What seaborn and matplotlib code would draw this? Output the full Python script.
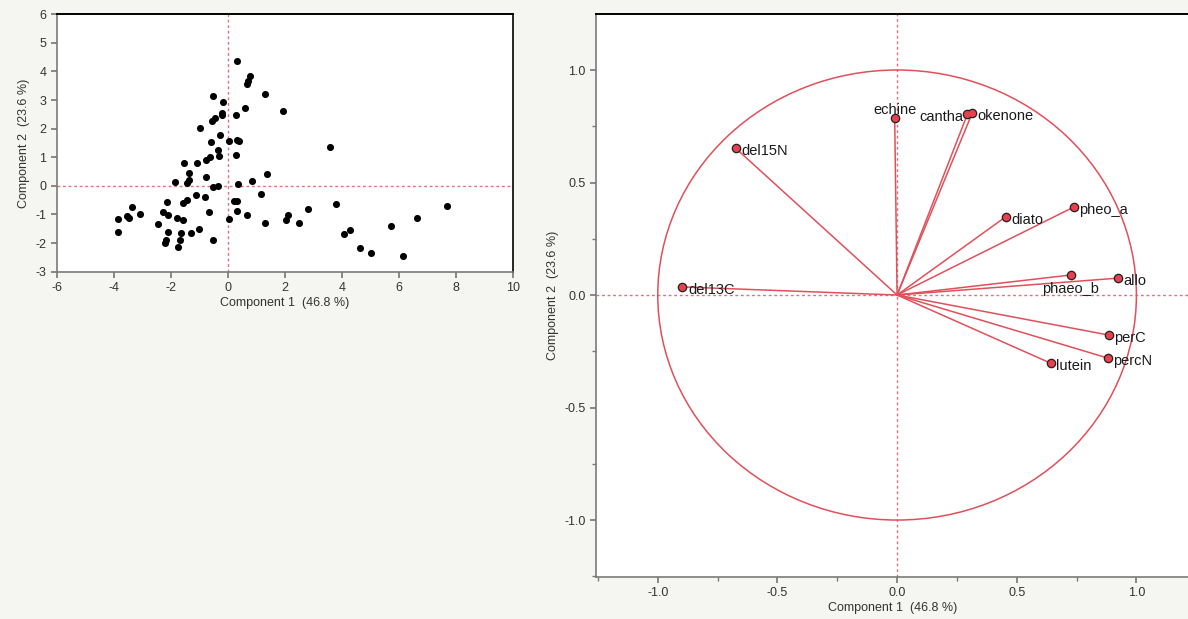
import matplotlib
matplotlib.use("Agg")
import matplotlib.pyplot as plt
from matplotlib.patches import Circle
from matplotlib.ticker import MultipleLocator
import seaborn as sns
import pandas as pd

# --- scores (left panel) ---
score_c1 = [0.31, 0.78, 0.72, 0.66, 1.30, -0.51, -0.16, 0.60, -0.19, -0.21,
            0.29, -0.45, -0.57, -0.98, 1.95, -0.27, -0.59, 0.04, 0.33, 0.39,
            -0.33, 0.28, -0.30, -0.61, -0.76, -1.09, -1.54, 3.58, -1.35, -1.35,
            -1.42, -1.84, -0.76, -0.51, -0.33, 0.37, 0.86, 1.36, 1.16, -1.12,
            -0.80, -1.42, -1.56, -2.14, -2.26, -2.09, -3.37, -3.08, -3.55, -3.45,
            -3.84, -3.84, -2.46, -1.79, -1.58, -0.67, -2.09, -2.17, -2.20, -1.65,
            -1.68, -1.74, -1.30, -1.02, -0.53, 0.23, 0.31, 0.33, 0.66, 0.05,
            1.30, 2.12, 2.04, 2.50, 2.82, 3.79, 7.70, 6.62, 5.73, 4.27,
            4.06, 4.62, 5.03, 6.13]
score_c2 = [4.38, 3.84, 3.66, 3.56, 3.21, 3.14, 2.92, 2.71, 2.56, 2.49,
            2.47, 2.36, 2.28, 2.04, 2.63, 1.78, 1.52, 1.56, 1.60, 1.58,
            1.26, 1.08, 1.05, 1.00, 0.92, 0.81, 0.79, 1.36, 0.44, 0.21,
            0.09, 0.13, 0.31, -0.03, 0.01, 0.06, 0.18, 0.41, -0.29, -0.32,
            -0.38, -0.49, -0.59, -0.55, -0.90, -1.02, -0.75, -0.98, -1.05, -1.13,
            -1.17, -1.60, -1.33, -1.13, -1.19, -0.91, -1.60, -1.89, -1.99, -1.64,
            -1.89, -2.13, -1.66, -1.50, -1.89, -0.52, -0.52, -0.87, -1.02, -1.17,
            -1.31, -1.02, -1.20, -1.31, -0.82, -0.62, -0.71, -1.13, -1.40, -1.54,
            -1.69, -2.18, -2.33, -2.45]

# --- loadings (right panel) ---
variables = ["del13C", "del15N", "echine", "cantha", "okenone", "diato",
             "pheo_a", "phaeo_b", "allo", "perC", "percN", "lutein"]
load_c1 = [-0.897, -0.675, -0.010, 0.294, 0.314, 0.453,
           0.738, 0.726, 0.922, 0.885, 0.880, 0.642]
load_c2 = [0.036, 0.653, 0.787, 0.804, 0.809, 0.347,
           0.391, 0.089, 0.075, -0.178, -0.280, -0.303]

x_label = "Component 1  (46.8 %)"
y_label = "Component 2  (23.6 %)"

scores = pd.DataFrame({"c1": score_c1, "c2": score_c2})
loadings = pd.DataFrame({"var": variables, "c1": load_c1, "c2": load_c2})

sns.set_theme(style="ticks")
plt.rcParams["font.family"] = ["Liberation Sans", "DejaVu Sans"]
plt.rcParams["axes.unicode_minus"] = False

bg = "#f5f5f1"
red = "#e0505a"
ref_red = "#e07080"
spine_gray = "#7a7a7a"
text_col = "#333333"

fig = plt.figure(figsize=(11.88, 6.19), dpi=100, facecolor=bg)


def style_axes(ax):
    ax.set_facecolor("white")
    for side in ["left", "bottom", "right"]:
        ax.spines[side].set_color(spine_gray)
        ax.spines[side].set_linewidth(1.2)
    ax.spines["top"].set_color("black")
    ax.spines["top"].set_linewidth(1.4)
    ax.tick_params(which="both", direction="out", color=spine_gray,
                   labelcolor=text_col, labelsize=9)
    ax.tick_params(which="major", length=4)
    ax.tick_params(which="minor", length=3)
    ax.set_xlabel(x_label, fontsize=9, color=text_col, labelpad=2)
    ax.set_ylabel(y_label, fontsize=9, color=text_col)


# ---------------- left: score plot ----------------
ax1 = fig.add_axes([0.0477, 0.5611, 0.3841, 0.4158])
ax1.axvline(0, color=ref_red, lw=1, ls=(0, (2, 2)), zorder=1)
ax1.axhline(0, color=ref_red, lw=1, ls=(0, (2, 2)), zorder=1)
sns.scatterplot(data=scores, x="c1", y="c2", ax=ax1, color="black",
                s=26, edgecolor="black", linewidth=0, zorder=3)
ax1.set_xlim(-6, 10)
ax1.set_ylim(-3, 6)
ax1.set_xticks(range(-6, 11, 2))
ax1.set_yticks(range(-3, 7, 1))
style_axes(ax1)
ax1.spines["right"].set_color("black")

# ---------------- right: loading plot ----------------
ax2 = fig.add_axes([0.5017, 0.0679, 0.5000, 0.9095])
ax2.axvline(0, color=ref_red, lw=1, ls=(0, (2, 2)), zorder=1)
ax2.axhline(0, color=ref_red, lw=1, ls=(0, (2, 2)), zorder=1)
ax2.add_patch(Circle((0, 0), 1, fill=False, edgecolor=red, lw=1.1, zorder=2))
for _, row in loadings.iterrows():
    ax2.plot([0, row["c1"]], [0, row["c2"]], color=red, lw=1.1, zorder=2)
# dark shadow behind each marker
sns.scatterplot(data=loadings, x="c1", y="c2", ax=ax2, color="#222222",
                s=48, linewidth=0, zorder=3)
sns.scatterplot(data=loadings, x="c1", y="c2", ax=ax2, color="#e8404c",
                s=26, linewidth=0, zorder=4)

label_pos = {
    "echine": ((0, 1), "center", "bottom"),
    "cantha": ((-3, -2), "right", "center"),
    "phaeo_b": ((0, -5), "center", "top"),
}
for _, row in loadings.iterrows():
    off, ha, va = label_pos.get(row["var"], ((4, -2), "left", "center"))
    ax2.annotate(row["var"], (row["c1"], row["c2"]), xytext=off,
                 textcoords="offset points", ha=ha, va=va,
                 fontsize=10.5, color="#1a1a1a", zorder=5)

ax2.set_xlim(-1.258, 1.224)
ax2.set_ylim(-1.253, 1.249)
ax2.xaxis.set_major_locator(MultipleLocator(0.5))
ax2.xaxis.set_minor_locator(MultipleLocator(0.25))
ax2.yaxis.set_major_locator(MultipleLocator(0.5))
ax2.yaxis.set_minor_locator(MultipleLocator(0.25))
ax2.xaxis.set_major_formatter(lambda v, p: f"{v:.1f}")
ax2.yaxis.set_major_formatter(lambda v, p: f"{v:.1f}")
style_axes(ax2)
ax2.spines["right"].set_visible(False)

fig.savefig("out.png", dpi=100, facecolor=bg)
